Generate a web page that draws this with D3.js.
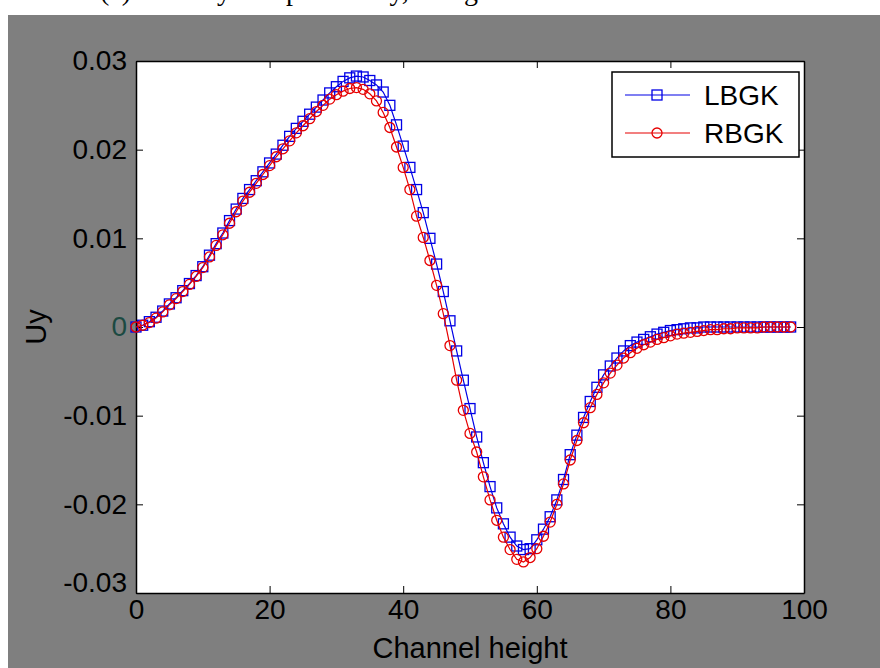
<!DOCTYPE html>
<html>
<head>
<meta charset="utf-8">
<script src="https://cdn.jsdelivr.net/npm/d3@7"></script>
<style>
  html, body { margin: 0; padding: 0; background: #ffffff; }
  svg { display: block; }
</style>
</head>
<body>
<svg id="chart" width="880" height="668"></svg>
<script>
// ---------------- data ----------------
const channelHeight = d3.range(0, 99); // 0..98
const lbgk = [
  0.0000, 0.0002, 0.0006, 0.0011, 0.0018, 0.0026, 0.0033, 0.0041, 0.0049, 0.0058,
  0.0068, 0.0081, 0.0094, 0.0106, 0.0120, 0.0133, 0.0145, 0.0155, 0.0165, 0.0175,
  0.0185, 0.0195, 0.0205, 0.0215, 0.0224, 0.0232, 0.0240, 0.0248, 0.0256, 0.0264,
  0.0271, 0.0277, 0.0281, 0.0283, 0.0282, 0.0278, 0.0273, 0.0265, 0.0250, 0.0228,
  0.0204, 0.0180, 0.0155, 0.0129, 0.0100, 0.0071, 0.0040, 0.0007, -0.0027, -0.0060,
  -0.0092, -0.0124, -0.0153, -0.0180, -0.0204, -0.0222, -0.0237, -0.0247, -0.0251, -0.0250,
  -0.0240, -0.0228, -0.0214, -0.0195, -0.0172, -0.0144, -0.0122, -0.0102, -0.0084, -0.0068,
  -0.0054, -0.0044, -0.0035, -0.0027, -0.0021, -0.0017, -0.0014, -0.0011, -0.0008, -0.0006,
  -0.0004, -0.0003, -0.0002, -0.0001, -0.0001, 0.0000, 0.0000, 0.0000, 0.0000, 0.0000,
  0.0000, 0.0000, 0.0000, 0.0000, 0.0000, 0.0000, 0.0000, 0.0000, 0.0000
];
const rbgk = [
  0.0000, 0.0002, 0.0005, 0.0010, 0.0017, 0.0025, 0.0032, 0.0040, 0.0048, 0.0057,
  0.0067, 0.0079, 0.0092, 0.0104, 0.0117, 0.0130, 0.0142, 0.0152, 0.0162, 0.0172,
  0.0182, 0.0192, 0.0201, 0.0210, 0.0219, 0.0227, 0.0235, 0.0243, 0.0250, 0.0257,
  0.0262, 0.0266, 0.0269, 0.0270, 0.0268, 0.0263, 0.0255, 0.0242, 0.0225, 0.0203,
  0.0180, 0.0155, 0.0125, 0.0101, 0.0075, 0.0047, 0.0015, -0.0021, -0.0060, -0.0094,
  -0.0120, -0.0141, -0.0169, -0.0195, -0.0218, -0.0237, -0.0251, -0.0262, -0.0265, -0.0260,
  -0.0250, -0.0236, -0.0220, -0.0200, -0.0177, -0.0150, -0.0128, -0.0108, -0.0091, -0.0076,
  -0.0063, -0.0052, -0.0043, -0.0035, -0.0029, -0.0024, -0.0020, -0.0017, -0.0014, -0.0012,
  -0.0010, -0.0008, -0.0007, -0.0006, -0.0005, -0.0004, -0.0003, -0.0003, -0.0002, -0.0002,
  -0.0001, -0.0001, -0.0001, -0.0001, 0.0000, 0.0000, 0.0000, 0.0000, 0.0000
];
const seriesNames = ["LBGK", "RBGK"];
const xTicks = [0, 20, 40, 60, 80, 100];
const xTickLabels = ["0", "20", "40", "60", "80", "100"];
const yTicks = [0.03, 0.02, 0.01, 0, -0.01, -0.02, -0.03];
const yTickLabels = ["0.03", "0.02", "0.01", "0", "-0.01", "-0.02", "-0.03"];
const xLabel = "Channel height";
const yLabel = "Uy";
const captionText = "(c) Velocity component Uy, along the centre line";

// ---------------- layout ----------------
const svg = d3.select("#chart");
const W = 880, H = 668;
const plot = { left: 136, right: 804, top: 61, bottom: 593 };
const font = "'Liberation Sans', Arial, Helvetica, sans-serif";
const blue = "#0000e6", red = "#e60000";

// caption of the page above, cut off by the top edge as in the source
svg.append("text")
  .attr("x", 100).attr("y", 0)
  .attr("font-family", "'Liberation Serif', 'DejaVu Serif', serif")
  .attr("font-size", 28)
  .attr("fill", "#000")
  .text(captionText);
svg.append("rect")
  .attr("x", 8).attr("y", 15).attr("width", W - 8).attr("height", H - 15)
  .attr("fill", "#7f7f7f");

const x = d3.scaleLinear().domain([0, 100]).range([plot.left, plot.right]);
const y = d3.scaleLinear().domain([-0.03, 0.03]).range([plot.bottom, plot.top]);

// axes background
svg.append("rect")
  .attr("x", plot.left).attr("y", plot.top)
  .attr("width", plot.right - plot.left).attr("height", plot.bottom - plot.top)
  .attr("fill", "#ffffff");

const tickLen = 7;
const fs = 28;

// bottom axis
const gx = svg.append("g")
  .attr("transform", `translate(0,${plot.bottom})`)
  .call(d3.axisBottom(x).tickValues(xTicks)
    .tickFormat((d, i) => xTickLabels[i])
    .tickSizeInner(-tickLen).tickSizeOuter(0).tickPadding(6));
// top axis
const gxt = svg.append("g")
  .attr("transform", `translate(0,${plot.top})`)
  .call(d3.axisTop(x).tickValues(xTicks).tickFormat("")
    .tickSizeInner(-tickLen).tickSizeOuter(0));
// left axis
const gy = svg.append("g")
  .attr("transform", `translate(${plot.left},0)`)
  .call(d3.axisLeft(y).tickValues(yTicks)
    .tickFormat((d, i) => yTickLabels[i])
    .tickSizeInner(-tickLen).tickSizeOuter(0).tickPadding(9));
// right axis
const gyr = svg.append("g")
  .attr("transform", `translate(${plot.right},0)`)
  .call(d3.axisRight(y).tickValues(yTicks).tickFormat("")
    .tickSizeInner(-tickLen).tickSizeOuter(0));

[gx, gxt, gy, gyr].forEach(g => {
  g.select(".domain").attr("stroke", "#000").attr("stroke-width", 1.5);
  g.selectAll(".tick line").attr("stroke", "#000").attr("stroke-width", 1);
  g.selectAll("text").attr("font-family", font).attr("font-size", fs).attr("fill", "#000");
});
// MATLAB-like nudges of the extreme/zero labels
gy.selectAll(".tick text")
  .filter(d => d === -0.03).attr("dy", "-0.05em");
gy.selectAll(".tick text")
  .filter(d => d === 0).attr("fill", "#1c4a42");

// axis titles
svg.append("text")
  .attr("x", (plot.left + plot.right) / 2).attr("y", 658)
  .attr("text-anchor", "middle")
  .attr("font-family", font).attr("font-size", 29).attr("fill", "#000")
  .text(xLabel);
svg.append("text")
  .attr("transform", `translate(46,${(plot.top + plot.bottom) / 2}) rotate(-90)`)
  .attr("text-anchor", "middle")
  .attr("font-family", font).attr("font-size", 29).attr("fill", "#000")
  .text(yLabel);

// ---------------- series ----------------
const line = d3.line().x(d => x(d[0])).y(d => y(d[1]));
const blueData = channelHeight.map((h, i) => [h, lbgk[i]]);
const redData = channelHeight.map((h, i) => [h, rbgk[i]]);

const gSeries = svg.append("g");
const squareSize = 10;
const circleR = 5;

function drawSquares(g, data, color) {
  g.selectAll("rect.m").data(data).enter().append("rect")
    .attr("class", "m")
    .attr("x", d => x(d[0]) - squareSize / 2)
    .attr("y", d => y(d[1]) - squareSize / 2)
    .attr("width", squareSize).attr("height", squareSize)
    .attr("fill", "none").attr("stroke", color).attr("stroke-width", 1.3);
}
function drawCircles(g, data, color) {
  g.selectAll("circle.m").data(data).enter().append("circle")
    .attr("class", "m")
    .attr("cx", d => x(d[0])).attr("cy", d => y(d[1])).attr("r", circleR)
    .attr("fill", "none").attr("stroke", color).attr("stroke-width", 1.3);
}

const gBlue = gSeries.append("g");
gBlue.append("path").datum(blueData).attr("d", line)
  .attr("fill", "none").attr("stroke", blue).attr("stroke-width", 1.2);
drawSquares(gBlue, blueData, blue);

const gRed = gSeries.append("g");
gRed.append("path").datum(redData).attr("d", line)
  .attr("fill", "none").attr("stroke", red).attr("stroke-width", 1.2);
drawCircles(gRed, redData, red);

// ---------------- legend ----------------
const leg = { x: 612, y: 72, w: 187, h: 85 };
svg.append("rect")
  .attr("x", leg.x).attr("y", leg.y).attr("width", leg.w).attr("height", leg.h)
  .attr("fill", "#ffffff").attr("stroke", "#000").attr("stroke-width", 1.5);
const legendRows = [
  { name: seriesNames[0], color: blue, shape: "square", cy: 95 },
  { name: seriesNames[1], color: red, shape: "circle", cy: 133 }
];
legendRows.forEach(r => {
  svg.append("line")
    .attr("x1", 625).attr("x2", 690).attr("y1", r.cy).attr("y2", r.cy)
    .attr("stroke", r.color).attr("stroke-width", 1.2);
  if (r.shape === "square") {
    svg.append("rect")
      .attr("x", 657 - squareSize / 2).attr("y", r.cy - squareSize / 2)
      .attr("width", squareSize).attr("height", squareSize)
      .attr("fill", "none").attr("stroke", r.color).attr("stroke-width", 1.3);
  } else {
    svg.append("circle")
      .attr("cx", 657).attr("cy", r.cy).attr("r", circleR)
      .attr("fill", "none").attr("stroke", r.color).attr("stroke-width", 1.3);
  }
  svg.append("text")
    .attr("x", 704).attr("y", r.cy).attr("dy", "0.36em")
    .attr("font-family", font).attr("font-size", 28).attr("fill", "#000")
    .text(r.name);
});
</script>
</body>
</html>
